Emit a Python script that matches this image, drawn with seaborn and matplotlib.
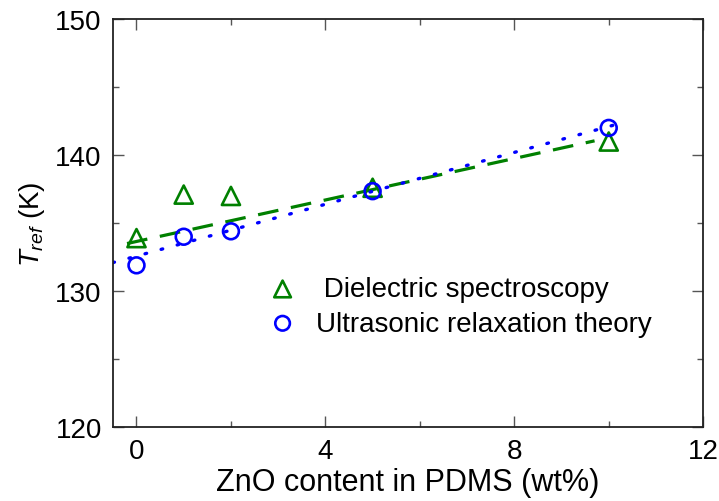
import matplotlib
matplotlib.use("Agg")
import matplotlib.pyplot as plt
from matplotlib.ticker import MultipleLocator
import seaborn as sns

# data
zno_content = [0, 1, 2, 5, 10]
t_dielectric = [133.9, 137.1, 137.0, 137.6, 141.0]
t_ultrasonic = [131.9, 134.0, 134.4, 137.35, 142.0]

# fitted lines (endpoints)
fit_dielectric_x = [-0.2, 9.7]
fit_dielectric_y = [133.5, 141.05]
fit_ultrasonic_x = [-0.5, 10.1]
fit_ultrasonic_y = [132.1, 142.2]

x_ticks = [0, 4, 8, 12]
y_ticks = [120, 130, 140, 150]

sns.set_style("ticks")
plt.rcParams["font.family"] = ["Liberation Sans", "DejaVu Sans"]
plt.rcParams["mathtext.fontset"] = "custom"
plt.rcParams["mathtext.rm"] = "Liberation Sans"
plt.rcParams["mathtext.it"] = "Liberation Sans:italic"
plt.rcParams["text.color"] = "black"
plt.rcParams["axes.labelcolor"] = "black"

fig = plt.figure(figsize=(7.19, 5.02), dpi=100)
ax = fig.add_axes([0.157, 0.147, 0.821, 0.813])

green = "#008000"
blue = "#0000FF"

sns.lineplot(x=fit_dielectric_x, y=fit_dielectric_y, ax=ax, color=green,
             linewidth=2.3, linestyle=(0, (6.5, 4.0)), legend=False)
sns.lineplot(x=fit_ultrasonic_x, y=fit_ultrasonic_y, ax=ax, color=blue,
             linewidth=2.4, linestyle=(0, (0.5, 4.5)), legend=False)
ax.lines[-1].set_dash_capstyle("round")

sns.scatterplot(x=zno_content, y=t_dielectric, ax=ax, marker="^", s=170,
                facecolor="none", edgecolor=green, linewidth=1.9,
                label=" Dielectric spectroscopy", zorder=5)
sns.scatterplot(x=zno_content, y=t_ultrasonic, ax=ax, marker="o", s=130,
                facecolor="none", edgecolor=blue, linewidth=1.9,
                label="Ultrasonic relaxation theory", zorder=6)

ax.set_xlim(-0.5, 12)
ax.set_ylim(120, 150)
ax.set_xticks(x_ticks)
ax.set_yticks(y_ticks)
ax.xaxis.set_minor_locator(MultipleLocator(2))
ax.yaxis.set_minor_locator(MultipleLocator(5))
ax.tick_params(which="both", direction="in", top=True, right=True,
               labelsize=20, color="#555555", labelcolor="black")
ax.tick_params(which="major", length=8, width=1.0, pad=8)
ax.tick_params(which="minor", length=4, width=1.0)
for s in ax.spines.values():
    s.set_linewidth(1.3)
    s.set_color("#222222")

ax.set_xlabel("ZnO content in PDMS (wt%)", fontsize=22, labelpad=2)
ax.set_ylabel(r"$T_{ref}$ (K)", fontsize=20, labelpad=6)

leg = ax.legend(loc="center left", bbox_to_anchor=(0.231, 0.296), frameon=False,
                fontsize=20, markerscale=0.92, handlelength=1.6, handletextpad=0.42,
                labelspacing=0.3, borderaxespad=0)

fig.savefig("out.png", dpi=100)
